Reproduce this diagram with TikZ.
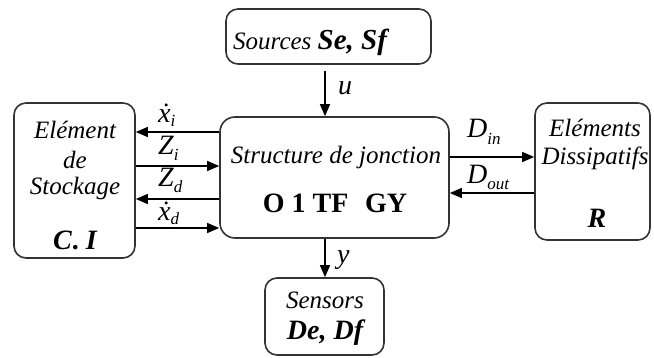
\documentclass[tikz,border=0pt]{standalone}
\usepackage{fontspec}
\setmainfont{Liberation Serif}
\usetikzlibrary{arrows.meta}
\newcommand\lsub[2][6pt]{\raisebox{-#1}{\fontsize{17}{17}\selectfont\itshape #2}}
\begin{document}
\begin{tikzpicture}[x=1pt,y=-1pt,
 box/.style={draw=black!80,line width=1.6pt,rounded corners=12pt,inner sep=0pt},
 arr/.style={line width=1.3pt,-{Triangle[length=12pt,width=10pt]}},
 lbl/.style={font=\fontsize{25}{27}\selectfont\itshape,inner sep=0pt},
 sym/.style={font=\fontsize{28}{30}\selectfont\itshape,inner sep=0pt,anchor=base west},
 big/.style={font=\fontsize{28}{30}\selectfont\bfseries,inner sep=0pt},
 bigit/.style={font=\fontsize{28}{30}\selectfont\bfseries\itshape,inner sep=0pt}]
\useasboundingbox (0,0) rectangle (654,358);
% boxes
\node[box,minimum width=205pt,minimum height=55pt] (src) at (328.5,36.5) {};
\node[box,rounded corners=15pt,minimum width=229pt,minimum height=121pt] (jun) at (334.5,177.5) {};
\node[box,minimum width=121pt,minimum height=155pt] (sto) at (74.5,180.5) {};
\node[box,minimum width=115pt,minimum height=137pt] (dis) at (592.5,171.5) {};
\node[box,minimum width=119pt,minimum height=77pt] (sen) at (324.5,316.5) {};
% texts
\node[lbl,anchor=base west] (srct) at (233,50) {Sources {\fontsize{29}{30}\selectfont\bfseries Se, Sf}};
\node[lbl] (junt1) at (336,157) {Structure de jonction};
\node[big] (junt2) at (335,203) {O 1 TF\hspace{0.6em}GY};
\node[lbl] (stot1) at (75,130) {Elément};
\node[lbl] (stot2) at (75,160) {de};
\node[lbl] (stot3) at (75,188) {Stockage};
\node[bigit] (stot4) at (75,240) {C{\normalfont\bfseries.} I};
\node[lbl] (dist1) at (595,128) {Eléments};
\node[lbl] (dist2) at (595,158) {Dissipatifs};
\node[bigit] (dist3) at (597,218) {R};
\node[lbl] (sent1) at (325,300) {Sensors};
\node[bigit] (sent2) at (325,333) {De, Df};
% connectors
\draw[arr,shorten <=6pt] (src.south -| 325,0) -- (jun.north -| 325,0);
\draw[arr] (jun.south -| 325,0) -- (sen.north -| 325,0);
\draw[arr] (jun.west |- 0,132) -- (sto.east |- 0,132);
\draw[arr] (sto.east |- 0,166) -- (jun.west |- 0,166);
\draw[arr] (jun.west |- 0,199) -- (sto.east |- 0,199);
\draw[arr] (sto.east |- 0,228) -- (jun.west |- 0,228);
\draw[arr] (jun.east |- 0,157) -- (dis.west |- 0,157);
\draw[arr] (dis.west |- 0,193) -- (jun.east |- 0,193);
% labels
\node[sym] (lu) at (338,95) {u};
\node[sym] (ly) at (337,264) {y};
\node[sym] (lxi) at (158,123) {\.x\lsub[4pt]{i}};
\node[sym] (lzi) at (158,155) {Z\lsub{i}};
\node[sym] (lzd) at (158,187) {Z\lsub{d}};
\node[sym] (lxd) at (158,221) {\.x\lsub[4pt]{d}};
\node[sym] (ldin) at (467,138) {D\lsub[7pt]{in}};
\node[sym] (ldout) at (467,184) {D\lsub[6pt]{out}};
\end{tikzpicture}
\end{document}
